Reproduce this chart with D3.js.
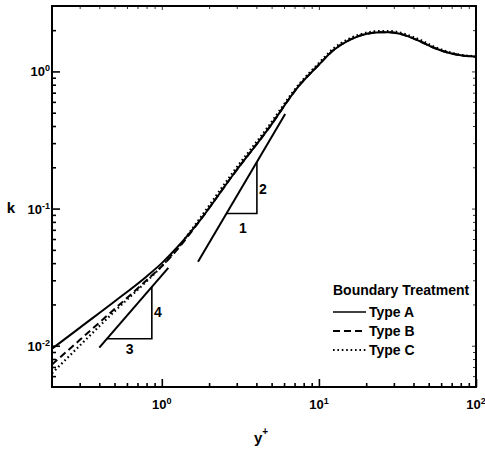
<!DOCTYPE html>
<html>
<head>
<meta charset="utf-8">
<script src="https://cdn.jsdelivr.net/npm/d3@7"></script>
<style>
  body { margin: 0; background: #fff; }
  text { font-family: "Liberation Sans", Arial, sans-serif; font-weight: bold; fill: #000; }
</style>
</head>
<body>
<svg id="chart" width="485" height="449"></svg>
<script>
// wall distance samples and k profiles
const yPlus = [0.2, 0.3, 0.5, 0.8, 1, 1.25, 1.75, 2.83, 4.67, 7.57, 10, 12.3, 15.7, 20.2, 24.5, 28, 32.8, 38, 45, 53, 65, 80, 100];
const kTypeA = [0.0095, 0.0135, 0.021, 0.032, 0.040, 0.052, 0.082, 0.175, 0.37, 0.80, 1.12, 1.42, 1.70, 1.88, 1.93, 1.93, 1.88, 1.78, 1.64, 1.50, 1.38, 1.31, 1.28];
const kTypeB = [0.0073, 0.0110, 0.0185, 0.030, 0.038, 0.050, 0.082, 0.175, 0.37, 0.80, 1.12, 1.42, 1.70, 1.88, 1.93, 1.93, 1.88, 1.78, 1.64, 1.50, 1.38, 1.31, 1.28];
const kTypeC = [0.0063, 0.0100, 0.0178, 0.0295, 0.038, 0.051, 0.085, 0.183, 0.385, 0.82, 1.15, 1.46, 1.74, 1.92, 1.97, 1.97, 1.92, 1.82, 1.68, 1.53, 1.40, 1.32, 1.29];

// slope reference lines and their triangles (y+, k)
const refSlope2 = [[1.70, 0.041], [6.1, 0.49]];
const triSlope2 = [[2.58, 0.092], [4.03, 0.092], [4.03, 0.219]];
const refSlope43 = [[0.40, 0.0097], [1.10, 0.037]];
const triSlope43 = [[0.451, 0.01125], [0.864, 0.01125], [0.864, 0.027]];
const triLabels = [
  { text: '1', at: [3.28, 0.0727] },
  { text: '2', at: [4.40, 0.138] },
  { text: '3', at: [0.625, 0.0095] },
  { text: '4', at: [0.943, 0.0176] }
];

// ticks
const xMajor = [1, 10, 100];
const xMajorExp = ['0', '1', '2'];
const xMinor = [0.3, 0.4, 0.5, 0.6, 0.7, 0.8, 0.9, 2, 3, 4, 5, 6, 7, 8, 9, 20, 30, 40, 50, 60, 70, 80, 90];
const yMajor = [0.01, 0.1, 1];
const yMajorExp = ['-2', '-1', '0'];
const yMinor = [0.006, 0.007, 0.008, 0.009, 0.02, 0.03, 0.04, 0.05, 0.06, 0.07, 0.08, 0.09,
  0.2, 0.3, 0.4, 0.5, 0.6, 0.7, 0.8, 0.9, 2];

const seriesNames = ['Type A', 'Type B', 'Type C'];
const seriesDash = [null, '7,4', '1.6,2.8'];

const svg = d3.select('#chart');
const pLeft = 52, pRight = 476, pTop = 6, pBottom = 387;

const x = d3.scaleLog().domain([0.2, 100]).range([pLeft, pRight]);
const y = d3.scaleLog().domain([0.005, 3]).range([pBottom, pTop]);

svg.append('defs').append('clipPath').attr('id', 'plotClip')
  .append('rect')
  .attr('x', pLeft).attr('y', pTop)
  .attr('width', pRight - pLeft).attr('height', pBottom - pTop);

// axes, ticks pointing inward (top and right ones are faint in the scan)
function addAxis (axisFn, scale, values, size, transform, width) {
  const g = svg.append('g')
    .attr('transform', transform)
    .call(axisFn(scale).tickValues(values).tickSize(-size).tickSizeOuter(0).tickFormat(''));
  g.select('.domain').remove();
  g.selectAll('line').attr('stroke', '#000').attr('stroke-width', width);
}
addAxis(d3.axisBottom, x, xMinor, 4, `translate(0,${pBottom})`, 1.6);
addAxis(d3.axisBottom, x, xMajor, 8, `translate(0,${pBottom})`, 1.6);
addAxis(d3.axisTop, x, xMinor, 3, `translate(0,${pTop})`, 0.8);
addAxis(d3.axisTop, x, xMajor, 4, `translate(0,${pTop})`, 0.8);
addAxis(d3.axisLeft, y, yMinor, 4, `translate(${pLeft},0)`, 1.6);
addAxis(d3.axisLeft, y, yMajor, 8, `translate(${pLeft},0)`, 1.6);
addAxis(d3.axisRight, y, yMinor, 3, `translate(${pRight},0)`, 0.8);
addAxis(d3.axisRight, y, yMajor, 4, `translate(${pRight},0)`, 0.8);

svg.append('rect')
  .attr('x', pLeft).attr('y', pTop)
  .attr('width', pRight - pLeft).attr('height', pBottom - pTop)
  .attr('fill', 'none').attr('stroke', '#000').attr('stroke-width', 2);

// tick labels
xMajor.forEach((v, i) => {
  const t = svg.append('text')
    .attr('x', x(v)).attr('y', 409)
    .attr('text-anchor', 'middle')
    .attr('font-size', 13);
  t.append('tspan').text('10');
  t.append('tspan').attr('font-size', 9).attr('dy', -5).text(xMajorExp[i]);
});
yMajor.forEach((v, i) => {
  const t = svg.append('text')
    .attr('x', 50).attr('y', y(v) + 5)
    .attr('text-anchor', 'end')
    .attr('font-size', 13);
  t.append('tspan').text('10');
  t.append('tspan').attr('font-size', 9).attr('dy', -5).text(yMajorExp[i]);
});

// axis titles
svg.append('text').attr('x', 11).attr('y', 213)
  .attr('text-anchor', 'middle').attr('font-size', 15).text('k');
const xt = svg.append('text').attr('x', 261).attr('y', 443)
  .attr('text-anchor', 'middle').attr('font-size', 15);
xt.append('tspan').text('y');
xt.append('tspan').attr('font-size', 10).attr('dy', -8).text('+');

// curves
const plot = svg.append('g').attr('clip-path', 'url(#plotClip)');
const line = d3.line()
  .x(d => x(d[0]))
  .y(d => y(d[1]))
  .curve(d3.curveMonotoneX);

const series = [kTypeA, kTypeB, kTypeC];
[2, 1, 0].forEach(i => {
  plot.append('path')
    .datum(yPlus.map((v, j) => [v, series[i][j]]))
    .attr('d', line)
    .attr('fill', 'none')
    .attr('stroke', '#000')
    .attr('stroke-width', i === 2 ? 2.2 : 2)
    .attr('stroke-dasharray', seriesDash[i]);
});

// slope guides
const straight = d3.line().x(d => x(d[0])).y(d => y(d[1]));
[refSlope2, refSlope43].forEach(pts => {
  plot.append('path').attr('d', straight(pts))
    .attr('fill', 'none').attr('stroke', '#000').attr('stroke-width', 2);
});
[triSlope2, triSlope43].forEach(pts => {
  plot.append('path').attr('d', straight(pts))
    .attr('fill', 'none').attr('stroke', '#000').attr('stroke-width', 1.6);
});
triLabels.forEach(d => {
  svg.append('text')
    .attr('x', x(d.at[0])).attr('y', y(d.at[1]) + 5)
    .attr('text-anchor', 'middle').attr('font-size', 14)
    .text(d.text);
});

// legend
svg.append('text').attr('x', 333).attr('y', 295).attr('font-size', 14).text('Boundary Treatment');
const legendY = [312, 331, 350];
seriesNames.forEach((name, i) => {
  svg.append('line')
    .attr('x1', 333).attr('x2', 366)
    .attr('y1', legendY[i]).attr('y2', legendY[i])
    .attr('stroke', '#000').attr('stroke-width', i === 0 ? 1.6 : 1.8)
    .attr('stroke-dasharray', seriesDash[i]);
  svg.append('text')
    .attr('x', 369).attr('y', legendY[i] + 5)
    .attr('font-size', 14).text(name);
});
</script>
</body>
</html>
